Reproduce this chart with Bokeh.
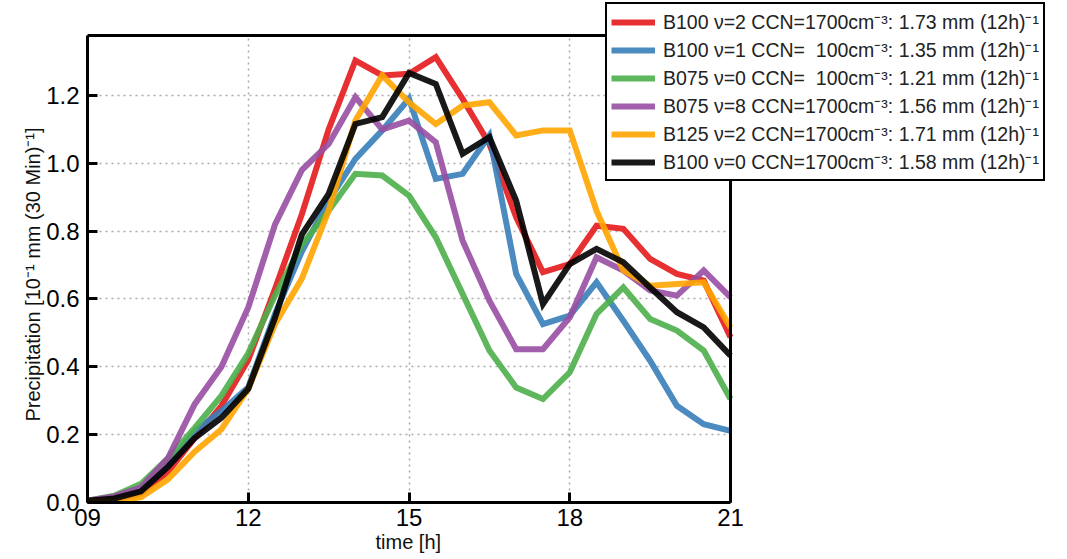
from bokeh.plotting import figure
from bokeh.models import (Range1d, FixedTicker, PrintfTickFormatter, Legend, LegendItem,
                          BoxAnnotation, Title)
from bokeh.embed import file_html
from bokeh.resources import INLINE

time_h = [9.0, 9.5, 10.0, 10.5, 11.0, 11.5, 12.0, 12.5, 13.0, 13.5, 14.0, 14.5, 15.0,
          15.5, 16.0, 16.5, 17.0, 17.5, 18.0, 18.5, 19.0, 19.5, 20.0, 20.5, 21.0]

b100_n2_ccn1700 = [0.005, 0.008, 0.027, 0.09, 0.19, 0.285, 0.42, 0.63, 0.85, 1.10, 1.303, 1.259, 1.264,
                   1.313, 1.19, 1.057, 0.841, 0.679, 0.703, 0.816, 0.807, 0.718, 0.674, 0.654, 0.487]
b100_n1_ccn100 = [0.005, 0.012, 0.035, 0.11, 0.21, 0.27, 0.34, 0.556, 0.74, 0.89, 1.013, 1.097, 1.19,
                  0.954, 0.969, 1.082, 0.674, 0.526, 0.551, 0.649, 0.536, 0.418, 0.285, 0.231, 0.211]
b075_n0_ccn100 = [0.005, 0.02, 0.055, 0.13, 0.22, 0.315, 0.44, 0.61, 0.76, 0.86, 0.969, 0.964, 0.905,
                  0.782, 0.615, 0.448, 0.339, 0.305, 0.384, 0.556, 0.634, 0.541, 0.507, 0.448, 0.305]
b075_n8_ccn1700 = [0.005, 0.018, 0.045, 0.13, 0.29, 0.40, 0.575, 0.82, 0.98, 1.057, 1.195, 1.10, 1.126,
                   1.062, 0.772, 0.595, 0.452, 0.452, 0.546, 0.723, 0.684, 0.625, 0.61, 0.684, 0.605]
b125_n2_ccn1700 = [0.003, 0.003, 0.016, 0.068, 0.15, 0.216, 0.335, 0.526, 0.66, 0.86, 1.126, 1.259, 1.18,
                   1.116, 1.17, 1.18, 1.082, 1.097, 1.097, 0.86, 0.684, 0.639, 0.644, 0.649, 0.516]
b100_n0_ccn1700 = [0.005, 0.012, 0.033, 0.105, 0.19, 0.25, 0.335, 0.545, 0.79, 0.91, 1.116, 1.136, 1.266,
                   1.234, 1.028, 1.077, 0.89, 0.585, 0.703, 0.748, 0.708, 0.634, 0.561, 0.516, 0.433]

series = [b100_n2_ccn1700, b100_n1_ccn100, b075_n0_ccn100, b075_n8_ccn1700, b125_n2_ccn1700, b100_n0_ccn1700]
labels = [
    "B100 \u03bd=2 CCN=1700cm\u207b\u00b3: 1.73 mm (12h)\u207b\u00b9",
    "B100 \u03bd=1 CCN=\u00a0 100cm\u207b\u00b3: 1.35 mm (12h)\u207b\u00b9",
    "B075 \u03bd=0 CCN=\u00a0 100cm\u207b\u00b3: 1.21 mm (12h)\u207b\u00b9",
    "B075 \u03bd=8 CCN=1700cm\u207b\u00b3: 1.56 mm (12h)\u207b\u00b9",
    "B125 \u03bd=2 CCN=1700cm\u207b\u00b3: 1.71 mm (12h)\u207b\u00b9",
    "B100 \u03bd=0 CCN=1700cm\u207b\u00b3: 1.58 mm (12h)\u207b\u00b9",
]
colors = ["#e41a1c", "#377eb8", "#4daf4a", "#984ea3", "#ffa500", "#000000"]

x_ticks = [9, 12, 15, 18, 21]
x_tick_labels = ["09", "12", "15", "18", "21"]
x_grid = [12, 15, 18]
y_ticks = [0.0, 0.2, 0.4, 0.6, 0.8, 1.0, 1.2]

X_MIN, X_MAX = 9, 21
Y_MIN, Y_MAX = 0, 1.377

x_label = "time [h]"
y_label = "Precipitation  [10\u207b\u00b9 mm (30 Min)\u207b\u00b9]"

FONT = "Liberation Sans"

# The frame covers the whole area to the right/top so the legend can overlap the axes box
p = figure(width=1067, height=559, output_backend="svg", toolbar_location=None,
           x_range=Range1d(X_MIN, 27.289), y_range=Range1d(Y_MIN, 1.480),
           min_border_left=87, min_border_right=0, min_border_top=0, min_border_bottom=57)
p.outline_line_color = None

renderers = []
for ys, c in zip(series, colors):
    r = p.line(time_h, ys, line_color=c, line_width=6, line_alpha=0.9, line_join="miter")
    renderers.append(r)

box = BoxAnnotation(left=X_MIN, right=X_MAX, bottom=Y_MIN, top=Y_MAX,
                    fill_alpha=0, line_color="black", line_width=3, line_alpha=1)
p.add_layout(box)

legend = Legend(items=[LegendItem(label=l, renderers=[r]) for l, r in zip(labels, renderers)],
                location=(518, 321), orientation="vertical",
                label_text_font=FONT, label_text_font_size="19.5px", label_text_color="#222222",
                glyph_width=44, glyph_height=20, label_height=20, label_standoff=8,
                spacing=1, padding=4, margin=0,
                border_line_color="black", border_line_width=2.5, border_line_alpha=1.0,
                background_fill_color="white", background_fill_alpha=1.0)
p.add_layout(legend, "center")

p.xaxis.ticker = FixedTicker(ticks=x_ticks)
p.xaxis.major_label_overrides = {t: s for t, s in zip(x_ticks, x_tick_labels)}
p.xaxis.bounds = (X_MIN, X_MAX)
p.yaxis.ticker = FixedTicker(ticks=y_ticks)
p.yaxis.formatter = PrintfTickFormatter(format="%.1f")
p.yaxis.bounds = (Y_MIN, Y_MAX)

for ax in (p.xaxis[0], p.yaxis[0]):
    ax.axis_line_width = 3
    ax.axis_line_color = "black"
    ax.major_tick_in = 10
    ax.major_tick_out = 0
    ax.major_tick_line_width = 3
    ax.minor_tick_line_color = None
    ax.major_label_text_font = FONT
    ax.major_label_text_font_size = "24px"
    ax.major_label_text_color = "black"

p.xaxis.major_label_standoff = 6
p.yaxis.major_label_standoff = 8

# axis titles positioned relative to the axes box (not the enlarged frame)
xt = Title(text=x_label, align="left", offset=288, standoff=0,
           text_font=FONT, text_font_size="20px", text_font_style="normal", text_color="#111111")
p.add_layout(xt, "below")
yt = Title(text=y_label, align="left", offset=81, standoff=0,
           text_font=FONT, text_font_size="20px", text_font_style="normal", text_color="#111111")
p.add_layout(yt, "left")

p.xgrid.ticker = FixedTicker(ticks=x_grid)
p.ygrid.ticker = FixedTicker(ticks=y_ticks)
p.xgrid.cross_bounds = (Y_MIN, Y_MAX)
p.ygrid.cross_bounds = (X_MIN, X_MAX)
for g in (p.xgrid[0], p.ygrid[0]):
    g.grid_line_color = "#aaaaaa"
    g.grid_line_width = 1.5
    g.grid_line_dash = "2 4"

p.background_fill_color = "white"
p.border_fill_color = "white"

open("out.html", "w").write(file_html(p, INLINE))
